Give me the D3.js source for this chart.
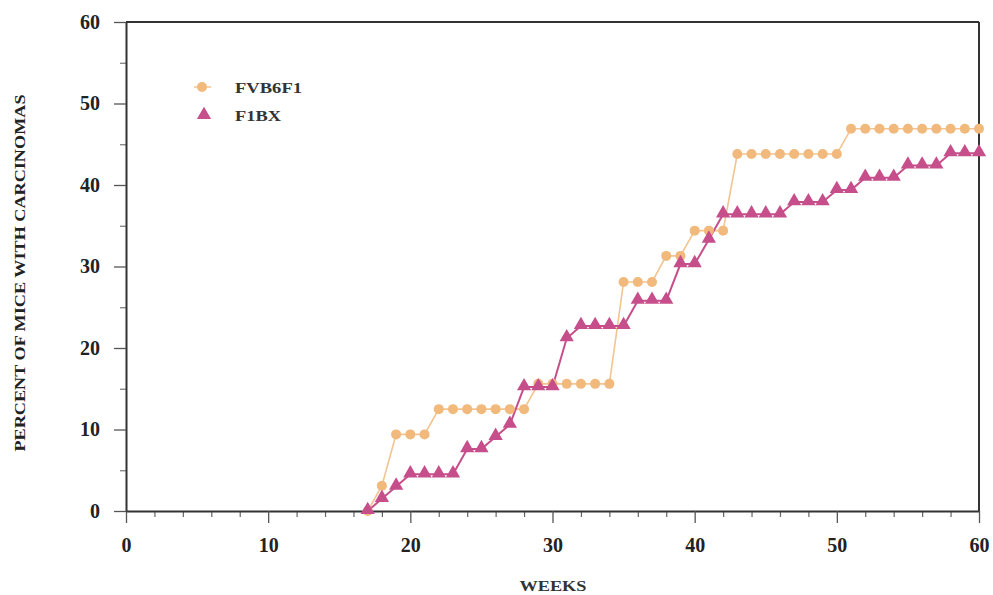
<!DOCTYPE html>
<html><head><meta charset="utf-8">
<script src="https://cdn.jsdelivr.net/npm/d3@7"></script>
<style>html,body{margin:0;padding:0;background:#fff;}svg{display:block;}</style>
</head><body>
<svg id="c" width="993" height="595"></svg>
<script>
const weeks = [17,18,19,20,21,22,23,24,25,26,27,28,29,30,31,32,33,34,35,36,37,38,39,40,41,42,43,44,45,46,47,48,49,50,51,52,53,54,55,56,57,58,59,60];
const fvb6f1 = [0,3.1,9.4,9.4,9.4,12.5,12.5,12.5,12.5,12.5,12.5,12.5,15.6,15.6,15.6,15.6,15.6,15.6,28.1,28.1,28.1,31.3,31.3,34.4,34.4,34.4,43.8,43.8,43.8,43.8,43.8,43.8,43.8,43.8,46.9,46.9,46.9,46.9,46.9,46.9,46.9,46.9,46.9,46.9];
const f1bx = [0,1.5,3.0,4.5,4.5,4.5,4.5,7.6,7.6,9.1,10.6,15.2,15.2,15.2,21.2,22.7,22.7,22.7,22.7,25.8,25.8,25.8,30.3,30.3,33.3,36.4,36.4,36.4,36.4,36.4,37.9,37.9,37.9,39.4,39.4,40.9,40.9,40.9,42.4,42.4,42.4,43.9,43.9,43.9];
const seriesNames = ["FVB6F1","F1BX"];
const xMajorTicks = [0,10,20,30,40,50,60];
const xMinorTicks = [2,4,6,8,12,14,16,18,22,24,26,28,32,34,36,38,42,44,46,48,52,54,56,58];
const yMajorTicks = [0,10,20,30,40,50,60];
const yMinorTicks = [5,15,25,35,45,55];
const xTitle = "WEEKS";
const yTitle = "PERCENT OF MICE WITH CARCINOMAS";

const svg = d3.select("#c");
const L = 126, R = 979, T = 22, B = 511;
const x = d3.scaleLinear().domain([0,60]).range([L,R]);
const y = d3.scaleLinear().domain([0,60]).range([B,T]);
const axisColor = "#333";
const font = "'Liberation Serif','Times New Roman',serif";
const orange = "#F1B97C", orangeLine = "#F3C48F", pink = "#C64F8B";

// frame top & right
svg.append("line").attr("x1",L).attr("x2",R).attr("y1",T).attr("y2",T).attr("stroke",axisColor).attr("stroke-width",2);
svg.append("line").attr("x1",R).attr("x2",R).attr("y1",T).attr("y2",B).attr("stroke",axisColor).attr("stroke-width",2);

// x axis
const gx = svg.append("g").attr("transform",`translate(0,${B})`);
gx.call(d3.axisBottom(x).tickValues(xMinorTicks).tickSize(6).tickFormat(""))
  .call(g=>g.select(".domain").remove())
  .call(g=>g.selectAll("line").attr("stroke","#666").attr("stroke-width",1.2));
const gx2 = svg.append("g").attr("transform",`translate(0,${B})`);
gx2.call(d3.axisBottom(x).tickValues(xMajorTicks).tickSize(12).tickSizeOuter(0).tickPadding(15).tickFormat(d3.format("d")))
  .call(g=>g.select(".domain").attr("stroke",axisColor).attr("stroke-width",2))
  .call(g=>g.selectAll("line").attr("stroke","#555").attr("stroke-width",1.3))
  .call(g=>g.selectAll("text").attr("font-family",font).attr("font-weight","bold").attr("font-size",20).attr("fill","#222"));

// y axis
const gy = svg.append("g").attr("transform",`translate(${L},0)`);
gy.call(d3.axisLeft(y).tickValues(yMinorTicks).tickSize(6).tickFormat(""))
  .call(g=>g.select(".domain").remove())
  .call(g=>g.selectAll("line").attr("stroke","#777").attr("stroke-width",1.2));
const gy2 = svg.append("g").attr("transform",`translate(${L},0)`);
gy2.call(d3.axisLeft(y).tickValues(yMajorTicks).tickSize(12).tickSizeOuter(0).tickPadding(14).tickFormat(d3.format("d")))
  .call(g=>g.select(".domain").attr("stroke",axisColor).attr("stroke-width",2))
  .call(g=>g.selectAll("line").attr("stroke","#555").attr("stroke-width",1.3))
  .call(g=>g.selectAll("text").attr("font-family",font).attr("font-weight","bold").attr("font-size",20).attr("fill","#222"));

// titles
svg.append("text").attr("x",553).attr("y",591).attr("text-anchor","middle")
  .attr("font-family",font).attr("font-weight","bold").attr("font-size",15).attr("fill","#333")
  .attr("textLength",67).attr("lengthAdjust","spacingAndGlyphs").text(xTitle);
svg.append("text").attr("transform","translate(25,273) rotate(-90)").attr("text-anchor","middle")
  .attr("font-family",font).attr("font-weight","bold").attr("font-size",15).attr("fill","#222")
  .attr("textLength",357).attr("lengthAdjust","spacingAndGlyphs").text(yTitle);

// lines
const lineGen = d3.line().x(d=>x(d[0])).y(d=>y(d[1]));
const dA = weeks.map((w,i)=>[w,fvb6f1[i]]);
const dB = weeks.map((w,i)=>[w,f1bx[i]]);
svg.append("path").datum(dA).attr("d",lineGen).attr("fill","none").attr("stroke",orangeLine).attr("stroke-width",1.6);
svg.append("path").datum(dB).attr("d",lineGen).attr("fill","none").attr("stroke",pink).attr("stroke-width",2);

svg.append("g").selectAll("circle").data(dA).join("circle")
  .attr("cx",d=>x(d[0])).attr("cy",d=>y(d[1])).attr("r",5).attr("fill",orange);
const tri = d3.symbol().type(d3.symbolTriangle).size(88);
svg.append("g").selectAll("path").data(dB).join("path")
  .attr("transform",d=>`translate(${x(d[0])},${y(d[1])-1})`).attr("d",tri).attr("fill",pink);

// legend
const lg = svg.append("g");
lg.append("line").attr("x1",194).attr("x2",211).attr("y1",87).attr("y2",87).attr("stroke",orangeLine).attr("stroke-width",1.5);
lg.append("circle").attr("cx",202).attr("cy",87).attr("r",5).attr("fill",orange);
lg.append("path").attr("transform","translate(204,115)").attr("d",tri).attr("fill",pink);
lg.append("text").attr("x",235).attr("y",93).text(seriesNames[0])
  .attr("font-family",font).attr("font-weight","bold").attr("font-size",15).attr("fill","#333")
  .attr("textLength",67).attr("lengthAdjust","spacingAndGlyphs");
lg.append("text").attr("x",235).attr("y",121).text(seriesNames[1])
  .attr("font-family",font).attr("font-weight","bold").attr("font-size",15).attr("fill","#333")
  .attr("textLength",46).attr("lengthAdjust","spacingAndGlyphs");
</script>
</body></html>
